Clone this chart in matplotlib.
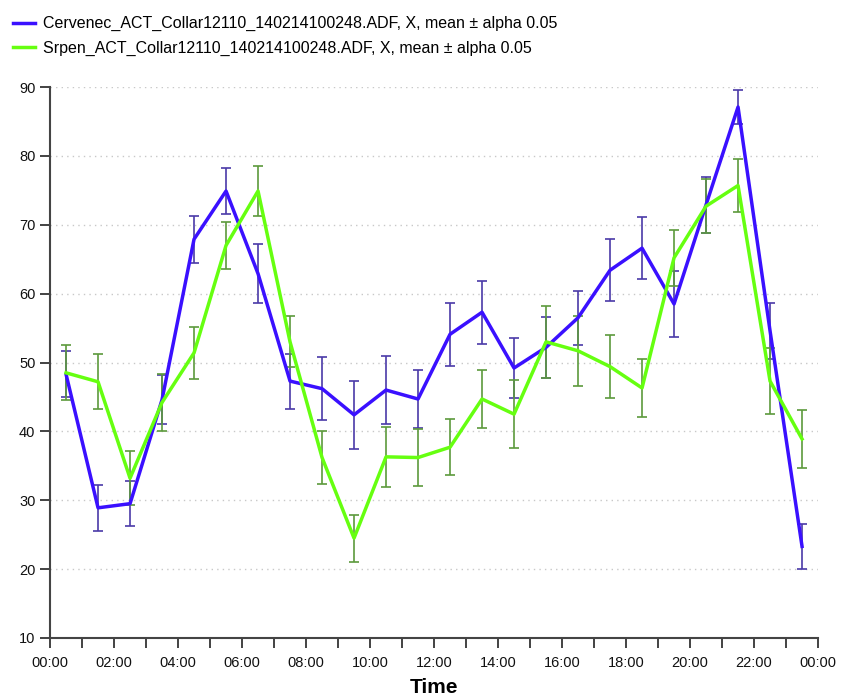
import matplotlib.pyplot as plt
from matplotlib.ticker import MultipleLocator, FuncFormatter

plt.rcParams['font.family'] = ['Liberation Sans', 'DejaVu Sans']

# hourly bins, plotted at the half hour
hours = [h + 0.5 for h in range(24)]

cervenec_label = "Cervenec_ACT_Collar12110_140214100248.ADF, X, mean \u00b1 alpha 0.05"
cervenec_mean = [48.3, 28.9, 29.5, 44.6, 67.9, 74.9, 62.9, 47.3, 46.2, 42.4, 46.0, 44.7,
                 54.1, 57.3, 49.2, 52.2, 56.5, 63.4, 66.6, 58.5, 72.9, 87.1, 54.6, 23.3]
cervenec_err = [3.3, 3.3, 3.3, 3.6, 3.4, 3.3, 4.3, 4.0, 4.6, 4.9, 5.0, 4.2,
                4.6, 4.6, 4.4, 4.4, 3.9, 4.5, 4.5, 4.8, 4.1, 2.5, 4.1, 3.3]

srpen_label = "Srpen_ACT_Collar12110_140214100248.ADF, X, mean \u00b1 alpha 0.05"
srpen_mean = [48.5, 47.2, 33.2, 44.2, 51.4, 67.0, 74.9, 53.0, 36.2, 24.5, 36.3, 36.2,
              37.7, 44.7, 42.5, 53.0, 51.7, 49.4, 46.3, 65.2, 72.7, 75.7, 47.3, 38.9]
srpen_err = [4.0, 4.0, 3.9, 4.2, 3.8, 3.4, 3.6, 3.7, 3.9, 3.4, 4.4, 4.2,
             4.1, 4.2, 4.9, 5.2, 5.1, 4.6, 4.2, 4.1, 3.9, 3.8, 4.8, 4.2]

fig = plt.figure(figsize=(8.41, 6.99), dpi=100)
ax = fig.add_axes([0.0595, 0.0873, 0.9132, 0.7882])

# error bars first, then the mean lines on top
ax.errorbar(hours, cervenec_mean, yerr=cervenec_err, fmt='none', ecolor='#4a3aa8',
            elinewidth=1.2, capsize=3.5, capthick=1.2, zorder=2)
ax.errorbar(hours, srpen_mean, yerr=srpen_err, fmt='none', ecolor='#5c9a3c',
            elinewidth=1.2, capsize=3.5, capthick=1.2, zorder=2)
l1, = ax.plot(hours, cervenec_mean, color='#3a10ff', lw=2.5, zorder=3, label=cervenec_label)
l2, = ax.plot(hours, srpen_mean, color='#66ff10', lw=2.5, zorder=4, label=srpen_label)

ax.set_xlim(0, 24)
ax.set_ylim(10, 90)
ax.xaxis.set_major_locator(MultipleLocator(2))
ax.xaxis.set_minor_locator(MultipleLocator(1))
ax.xaxis.set_major_formatter(FuncFormatter(lambda v, p: "%02d:00" % (int(round(v)) % 24)))
ax.yaxis.set_major_locator(MultipleLocator(10))

for y in range(20, 100, 10):
    ax.axhline(y, color='#c8c8c8', lw=1, ls=(0, (1, 3)), zorder=1)

for side in ('top', 'right'):
    ax.spines[side].set_visible(False)
for side in ('left', 'bottom'):
    ax.spines[side].set_color('#444444')
    ax.spines[side].set_linewidth(1.5)

ax.tick_params(axis='both', which='major', direction='out', length=7, width=1.2,
               color='#222222', labelsize=10.5, labelcolor='#111111')
ax.tick_params(axis='x', which='major', pad=6)
ax.tick_params(axis='x', which='minor', direction='out', length=7, width=1.2, color='#222222')

ax.set_xlabel("Time", fontsize=15, fontweight='bold', labelpad=6)

fig.legend(handles=[l1, l2], loc='upper left', bbox_to_anchor=(0.0, 0.995), frameon=False,
           fontsize=11.5, handlelength=1.4, handletextpad=0.5, labelspacing=0.6,
           borderaxespad=0.4)

fig.savefig("out.png", dpi=100)
